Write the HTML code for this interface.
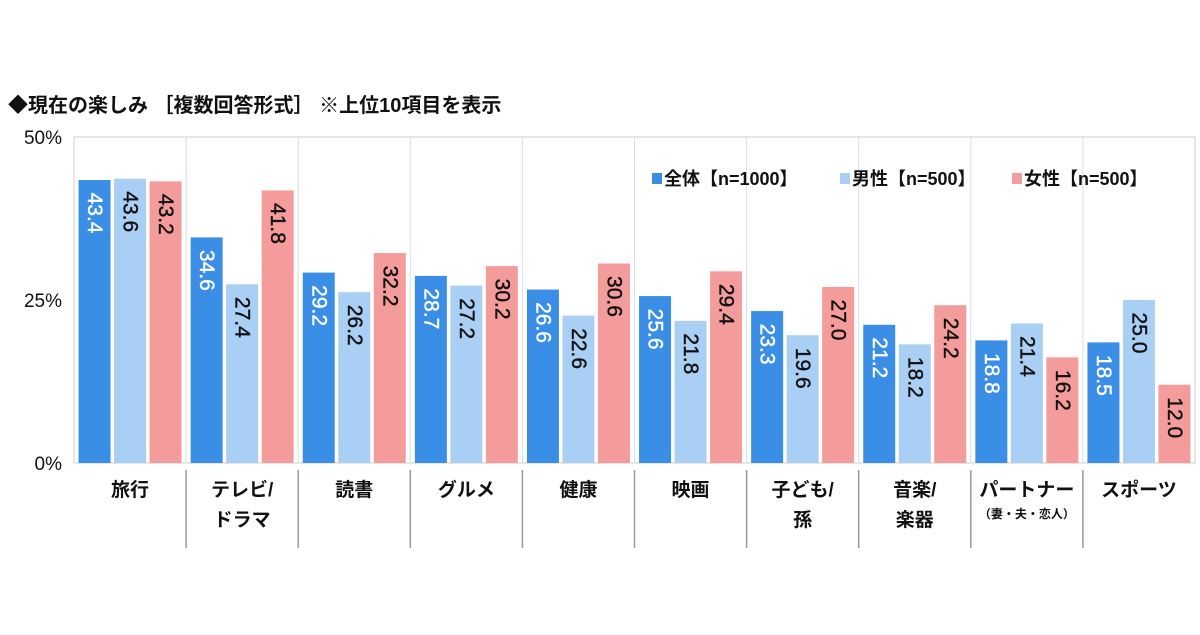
<!DOCTYPE html>
<html><head><meta charset="utf-8"><style>
body{margin:0;background:#fff;font-family:"Liberation Sans","Noto Sans CJK JP",sans-serif}
svg text{font-family:"Liberation Sans","Noto Sans CJK JP",sans-serif}
</style></head><body>
<svg id="c" width="1200" height="630">
<text x="8" y="112" font-size="20" font-weight="bold" fill="#111">◆現在の楽しみ ［複数回答形式］ ※上位10項目を表示</text>
</svg>
<script>
const categories=[["旅行"],["テレビ/","ドラマ"],["読書"],["グルメ"],["健康"],["映画"],["子ども/","孫"],["音楽/","楽器"],["パートナー","（妻・夫・恋人）"],["スポーツ"]];
const seriesAll=[43.4,34.6,29.2,28.7,26.6,25.6,23.3,21.2,18.8,18.5];
const seriesMale=[43.6,27.4,26.2,27.2,22.6,21.8,19.6,18.2,21.4,25.0];
const seriesFemale=[43.2,41.8,32.2,30.2,30.6,29.4,27.0,24.2,16.2,12.0];
const yTicks=[0,25,50];
const legendLabels=["全体【n=1000】","男性【n=500】","女性【n=500】"];
const NS="http://www.w3.org/2000/svg",svg=document.getElementById('c');
const L=74,R=1195,T=137,B=463,gw=(R-L)/categories.length;
const y=v=>B-(B-T)*v/50;
function mk(t,a,p){const e=document.createElementNS(NS,t);for(const k in a)e.setAttribute(k,a[k]);(p||svg).appendChild(e);return e;}
const frame=mk('rect',{x:L,y:T,width:R-L,height:B-T,fill:'none',stroke:'#ccc'});


for(let i=1;i<categories.length;i++){const x=L+gw*i;
 const g=mk('line',{x1:x,x2:x,y1:T,y2:B,stroke:'#ddd'});
 
 
 const s=mk('line',{x1:x,x2:x,y1:470,y2:548,stroke:'#999','stroke-width':1.5});
 
 }
yTicks.forEach(v=>{const t=mk('text',{x:62,y:y(v)+7,'text-anchor':'end','font-size':19,fill:'#111'});t.textContent=v+'%';
 
 });
const colors=['#3a8ee6','#a9cff5','#f49c9b'],series=[seriesAll,seriesMale,seriesFemale],names=['all','male','female'];
const bw=32,gap=3.5,off=(gw-3*bw-2*gap)/2;
categories.forEach((c,i)=>{
 series.forEach((s,j)=>{const x=L+gw*i+off+j*(bw+gap),v=s[i];
  const r=mk('rect',{x:x,y:y(v),width:bw,height:B-y(v),fill:colors[j]});
  
  
  const cx=x+bw/2,cy=y(v)+33;
  const t=mk('text',{x:cx,y:cy,'font-size':21,fill:j==0?'#fff':'#111','text-anchor':'middle','dominant-baseline':'central',stroke:j==0?'#fff':'#111','stroke-width':0.4,transform:`rotate(90 ${cx} ${cy})`});
  t.textContent=v.toFixed(1);
  
  });
 const cx=L+gw*(i+0.5);
 c.forEach((ln,k)=>{const small=k==1&&c[0]=="パートナー";
  const t=mk('text',{x:cx,y:small?518:496+k*30,'text-anchor':'middle','font-size':small?12:19,'font-weight':'bold',fill:'#111'});
  t.textContent=ln;
  
  });
});
let lx=652;
legendLabels.forEach((l,j)=>{
 const r=mk('rect',{x:lx,y:173,width:10,height:11,fill:colors[j]});
 
 
 const t=mk('text',{x:lx+12,y:185,'font-size':18,'font-weight':'bold',fill:'#111'});t.textContent=l;
 
 
 lx+=[188,172,0][j];});
</script>
</body></html>
